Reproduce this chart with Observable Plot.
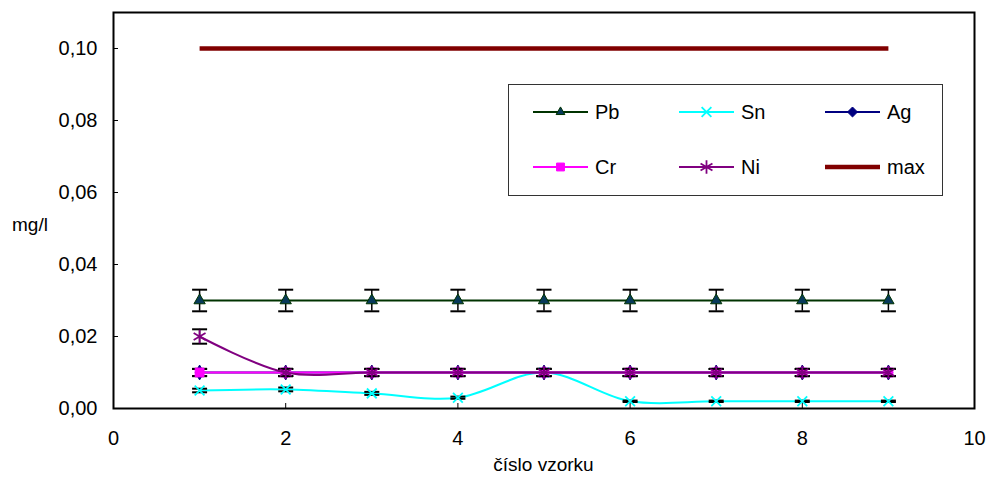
<!DOCTYPE html>
<html><head><meta charset="utf-8">
<script src="https://cdn.jsdelivr.net/npm/d3@7"></script>
<script src="https://cdn.jsdelivr.net/npm/@observablehq/plot@0.6"></script>
<style>
body{margin:0;background:#fff;}
#chart{position:relative;width:988px;height:490px;font-family:"Liberation Sans",Arial,sans-serif;color:#000;}
#chart svg{display:block;}
.title{position:absolute;font-size:19px;white-space:nowrap;}
#overlay{position:absolute;left:0;top:0;pointer-events:none;}
</style></head><body><div id="chart"></div>
<script>
// ---- data ----
const samples = [1, 2, 3, 4, 5, 6, 7, 8, 9];
const pb  = [0.03, 0.03, 0.03, 0.03, 0.03, 0.03, 0.03, 0.03, 0.03];
const sn  = [0.005, 0.0053, 0.0042, 0.003, 0.01, 0.002, 0.002, 0.002, 0.002];
const ag  = [0.01, 0.01, 0.01, 0.01, 0.01, 0.01, 0.01, 0.01, 0.01];
const cr  = [0.01, 0.01, 0.01, 0.01, 0.01, 0.01, 0.01, 0.01, 0.01];
const ni  = [0.02, 0.01, 0.01, 0.01, 0.01, 0.01, 0.01, 0.01, 0.01];
const maxLimit = [0.1, 0.1, 0.1, 0.1, 0.1, 0.1, 0.1, 0.1, 0.1];
const errorFraction = 0.1; // error bars: 10 % of value
const xTicks = [0, 2, 4, 6, 8, 10];
const yTicks = [0, 0.02, 0.04, 0.06, 0.08, 0.10];
const seriesNames = ["Pb", "Sn", "Ag", "Cr", "Ni", "max"];

// ---- styles ----
const styles = {
  Pb:  {values: pb, line: "#003300", width: 2, symbol: "triangle", fill: "#083a5a", mstroke: "#003300", r: 4.2, err: true},
  Sn:  {values: sn, line: "#00ffff", width: 2, symbol: "times", fill: "none", mstroke: "#00ffff", r: 4.5, err: true},
  Ag:  {values: ag, line: "#000080", width: 2, symbol: "diamond", fill: "#000080", mstroke: "#000080", r: 4.5, err: true},
  Cr:  {values: cr, line: "#ff00ff", width: 2, symbol: "square", fill: "#ff00ff", mstroke: "#ff00ff", r: 5, err: true},
  Ni:  {values: ni, line: "#800080", width: 2, symbol: "asterisk", fill: "none", mstroke: "#800080", r: 6.5, err: true},
  max: {values: maxLimit, line: "#800000", width: 4.5, symbol: null, err: false}
};

const W = 988, H = 490;
const mL = 113, mT = 12, mR = 14, mB = 82;
const innerW = W - mL - mR, innerH = H - mT - mB;

const capSymbol = {
  draw(ctx, size) {
    const h = Math.sqrt(size / Math.PI);
    ctx.moveTo(-h, 0); ctx.lineTo(h, 0);
  }
};

const marks = [];
for (const name of seriesNames) {
  const s = styles[name];
  const rows = samples.map((x, i) => ({x, y: s.values[i], e: s.values[i] * errorFraction}));
  marks.push(Plot.line(rows, {x: "x", y: "y", stroke: s.line, strokeWidth: s.width, curve: "catmull-rom", strokeLinecap: "butt"}));
  if (s.err) {
    marks.push(Plot.ruleX(rows, {x: "x", y1: d => d.y - d.e, y2: d => d.y + d.e, stroke: "black", strokeWidth: 1.5}));
    marks.push(Plot.dot(rows, {x: "x", y: d => d.y - d.e, symbol: capSymbol, r: 7.5, fill: "none", stroke: "black", strokeWidth: 2}));
    marks.push(Plot.dot(rows, {x: "x", y: d => d.y + d.e, symbol: capSymbol, r: 7.5, fill: "none", stroke: "black", strokeWidth: 2}));
  }
  if (s.symbol) {
    const filled = s.fill !== "none";
    marks.push(Plot.dot(rows, {x: "x", y: "y", symbol: s.symbol, r: s.r,
      fill: filled ? s.fill : "none", stroke: s.mstroke, strokeWidth: filled ? 1 : 1.8}));
  }
}

const chart = Plot.plot({
  width: W, height: H,
  marginLeft: mL, marginTop: mT, marginRight: mR, marginBottom: mB,
  style: {fontFamily: '"Liberation Sans", Arial, sans-serif', fontSize: "20px", background: "#fff", color: "#000"},
  x: {domain: [0, 10]},
  y: {domain: [0, 0.11]},
  marks: [
    Plot.tickY(yTicks, {y: d => d, insetRight: innerW - 5, stroke: "black", strokeWidth: 1}),
    Plot.tickX(xTicks, {x: d => d, insetTop: innerH - 5, stroke: "black", strokeWidth: 1}),
    Plot.axisY({ticks: yTicks, tickSize: 0, tickPadding: 16, label: null, fontSize: 20,
      tickFormat: d => d.toFixed(2).replace(".", ",")}),
    Plot.axisX({ticks: xTicks, tickSize: 0, tickPadding: 22, label: null, fontSize: 20,
      tickFormat: d => String(d)}),
    ...marks,
    Plot.frame({stroke: "black", strokeWidth: 2})
  ]
});

const root = document.getElementById("chart");
root.appendChild(chart);

function addTitle(text, left, top, anchor) {
  const d = document.createElement("div");
  d.className = "title";
  d.textContent = text;
  d.style.left = left + "px";
  d.style.top = top + "px";
  if (anchor === "middle") d.style.transform = "translateX(-50%)";
  root.appendChild(d);
}
addTitle("mg/l", 12, 214, "start");
addTitle("číslo vzorku", (mL + W - mR) / 2, 454, "middle");

// ---- legend (overlay) ----
const ov = d3.select(root).append("svg").attr("id", "overlay").attr("width", W).attr("height", H);
ov.append("rect").attr("x", 508.5).attr("y", 84.5).attr("width", 434).attr("height", 111)
  .attr("fill", "#fff").attr("stroke", "#333").attr("stroke-width", 1);
const symMap = {triangle: d3.symbolTriangle2, times: d3.symbolTimes, diamond: d3.symbolDiamond2, square: d3.symbolSquare2, asterisk: d3.symbolAsterisk};
const colX = [533, 679, 825];
const rowY = [112, 167];
seriesNames.forEach((name, i) => {
  const s = styles[name];
  const x0 = colX[i % 3], y0 = rowY[Math.floor(i / 3)];
  const g = ov.append("g");
  g.append("line").attr("x1", x0).attr("x2", x0 + 55).attr("y1", y0).attr("y2", y0)
    .attr("stroke", s.line).attr("stroke-width", s.width);
  if (s.symbol) {
    const filled = s.fill !== "none";
    g.append("path").attr("d", d3.symbol(symMap[s.symbol], Math.PI * s.r * s.r)())
      .attr("transform", `translate(${x0 + 27.5},${y0})`)
      .attr("fill", filled ? s.fill : "none").attr("stroke", s.mstroke)
      .attr("stroke-width", filled ? 1 : 1.8);
  }
  g.append("text").attr("x", x0 + 62).attr("y", y0).attr("dy", "0.35em")
    .attr("font-family", '"Liberation Sans", Arial, sans-serif').attr("font-size", 20).text(name);
});
</script>
</body></html>
